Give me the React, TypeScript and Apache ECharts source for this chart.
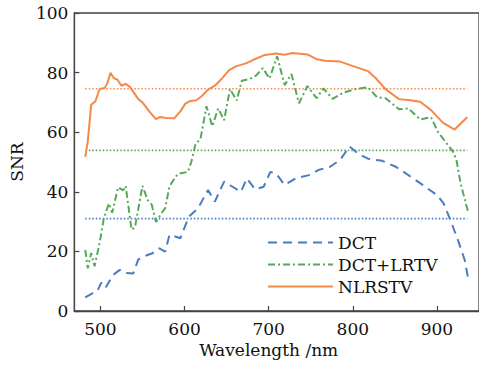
import React, { useEffect, useRef } from "react";
import * as echarts from "echarts";

const xTicks = [500, 600, 700, 800, 900];

const dctWl = [482, 491, 496, 501, 506, 515, 523, 530, 539, 545, 556, 562, 570, 577, 582, 589, 595, 605, 616, 628, 636, 647, 657, 667, 674, 684, 694, 702, 709, 719, 732, 748, 759, 773, 785, 796, 808, 818, 835, 851, 863, 883, 900, 908, 916, 925, 933, 937];
const dctSnr = [4.6, 6, 6.5, 9.5, 7.8, 12.1, 13.8, 12.8, 12.6, 17.3, 18.8, 19.4, 21, 19.9, 25.5, 25, 24.4, 31.6, 34.5, 40.6, 36.7, 43.4, 41.7, 40, 44.5, 40.8, 41.7, 46.7, 46, 42.3, 44.5, 45.6, 47.3, 48.4, 50.7, 55.2, 52.5, 51.1, 50.4, 48.4, 46.2, 42.3, 38.9, 36.1, 30.5, 23.8, 17.1, 11];

const lrtvWl = [482, 485, 489, 493, 499, 504, 510, 514, 521, 527, 530, 537, 541, 550, 556, 561, 566, 572, 577, 582, 585, 592, 604, 608, 613, 619, 626, 633, 640, 647, 654, 662, 668, 677, 685, 693, 701, 710, 719, 727, 736, 746, 757, 765, 776, 789, 802, 818, 829, 839, 855, 866, 880, 893, 901, 919, 923, 928, 937];
const lrtvSnr = [20.5, 14.3, 19.5, 15, 22.8, 31, 36.1, 33, 41.5, 40.5, 42, 27.3, 28, 42, 37.3, 35.7, 29.9, 32.6, 34.5, 41.7, 43.2, 46, 46.7, 50, 56, 57.8, 68.7, 62, 68, 64, 74.5, 70.6, 77.3, 77.8, 79, 81.5, 78, 85.5, 75.8, 79.5, 69.7, 75.5, 71.4, 74.7, 71.2, 73.3, 74.4, 75.1, 71.7, 71.4, 67.7, 68, 64.3, 65, 60.2, 53.5, 51, 43, 33.3];

const nlrWl = [482, 485, 489, 494, 499, 505, 508, 512, 516, 520, 525, 530, 535, 545, 550, 558, 566, 571, 578, 588, 595, 601, 606, 614, 620, 628, 636, 645, 653, 661, 672, 682, 694, 708, 719, 728, 746, 757, 767, 785, 796, 818, 828, 839, 855, 866, 880, 893, 907, 921, 936];
const nlrSnr = [51.7, 57, 69.2, 70.4, 74.5, 74.8, 76.3, 79.9, 78.1, 77.7, 75.6, 76.2, 75.2, 71.1, 70, 67, 64.4, 65.1, 64.8, 64.7, 67, 69.6, 70.4, 70.7, 72, 74.3, 75.6, 78.2, 80.8, 82.1, 83, 84.3, 85.8, 86.4, 86, 86.6, 86.1, 84.5, 84, 83.7, 82.6, 80.5, 77.9, 74.4, 71.1, 70.8, 70.2, 67.4, 63.2, 60.9, 65];

const meanRange = [482, 936];
const meanDct = 31.0;
const meanLrtv = 53.9;
const meanNlr = 74.6;

const BLUE = "#4a7cc0";
const GREEN = "#56a85a";
const ORANGE = "#f5894a";
const FONT = "'DejaVu Serif', 'Liberation Serif', serif";

const pairs = (xs: number[], ys: number[]) => xs.map((x, i) => [x, ys[i]]);
const flat = (v: number) => meanRange.map((x) => [x, v]);

export default function App() {
  const ref = useRef<HTMLDivElement>(null);
  useEffect(() => {
    document.body.style.margin = "0";
    const chart = echarts.init(ref.current!, null, { renderer: "svg" });
    const axisCol = "#444";
    const txt = { fontSize: 17, color: "#111", fontFamily: FONT };
    chart.setOption({
      animation: false,
      textStyle: { fontFamily: FONT },
      grid: { left: 69, top: 13, right: -3, bottom: 55, show: true, borderColor: axisCol, borderWidth: 1.3 },
      legend: {
        orient: "vertical",
        left: 267,
        top: 234,
        padding: 0,
        itemWidth: 65,
        itemHeight: 14,
        itemGap: 5,
        itemStyle: { opacity: 0 },
        textStyle: { ...txt, lineHeight: 17 },
        data: ["DCT", "DCT+LRTV", "NLRSTV"],
      },
      xAxis: {
        type: "value",
        min: 469,
        max: 950,
        name: "Wavelength /nm",
        nameLocation: "middle",
        nameGap: 30,
        nameTextStyle: { ...txt, padding: [0, 16, 0, 0] },
        axisLine: { lineStyle: { color: axisCol, width: 1.3 } },
        axisTick: { inside: true, length: 5, customValues: xTicks, lineStyle: { color: axisCol, width: 1.2 } },
        axisLabel: { ...txt, customValues: xTicks, margin: 9 },
        splitLine: { show: false },
      },
      yAxis: {
        type: "value",
        min: 0,
        max: 100,
        interval: 20,
        name: "SNR",
        nameLocation: "middle",
        nameGap: 37,
        nameTextStyle: txt,
        axisLine: { show: true, lineStyle: { color: axisCol, width: 1.3 } },
        axisTick: { show: true, inside: true, length: 5, lineStyle: { color: axisCol, width: 1.2 } },
        axisLabel: { ...txt, margin: 6 },
        splitLine: { show: false },
      },
      series: [
        { name: "DCT mean", type: "line", data: flat(meanDct), showSymbol: false, symbol: "none", lineStyle: { color: BLUE, width: 1.6, type: [1.5, 2] }, itemStyle: { color: BLUE }, silent: true },
        { name: "DCT+LRTV mean", type: "line", data: flat(meanLrtv), showSymbol: false, symbol: "none", lineStyle: { color: GREEN, width: 1.6, type: [1.5, 2] }, itemStyle: { color: GREEN }, silent: true },
        { name: "NLRSTV mean", type: "line", data: flat(meanNlr), showSymbol: false, symbol: "none", lineStyle: { color: ORANGE, width: 1.6, type: [1.5, 2] }, itemStyle: { color: ORANGE }, silent: true },
        { name: "DCT", type: "line", data: pairs(dctWl, dctSnr), showSymbol: false, symbol: "none", lineStyle: { color: BLUE, width: 2, type: [9, 6] }, itemStyle: { color: BLUE } },
        { name: "DCT+LRTV", type: "line", data: pairs(lrtvWl, lrtvSnr), showSymbol: false, symbol: "none", lineStyle: { color: GREEN, width: 2, type: [7, 3, 2, 3] }, itemStyle: { color: GREEN } },
        { name: "NLRSTV", type: "line", data: pairs(nlrWl, nlrSnr), showSymbol: false, symbol: "none", lineStyle: { color: ORANGE, width: 2 }, itemStyle: { color: ORANGE } },
      ],
    });
    return () => chart.dispose();
  }, []);
  return <div ref={ref} style={{ width: 479, height: 366 }} />;
}
